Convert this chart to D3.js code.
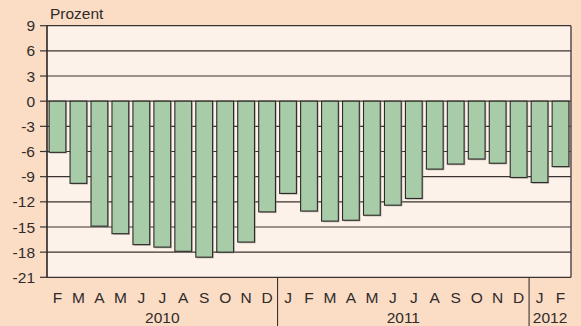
<!DOCTYPE html>
<html>
<head>
<meta charset="utf-8">
<script src="https://cdn.jsdelivr.net/npm/d3@7"></script>
<style>
  html, body { margin: 0; padding: 0; background: #fbdcc5; }
  svg { display: block; font-family: "Liberation Sans", Arial, sans-serif; }
</style>
</head>
<body>
<svg id="chart" width="581" height="326"></svg>
<script>
// Monthly change, in percent (Feb 2010 – Feb 2012)
const months = ["F","M","A","M","J","J","A","S","O","N","D",
                "J","F","M","A","M","J","J","A","S","O","N","D",
                "J","F"];
const years = ["2010","2010","2010","2010","2010","2010","2010","2010","2010","2010","2010",
               "2011","2011","2011","2011","2011","2011","2011","2011","2011","2011","2011","2011",
               "2012","2012"];
const values = [-6.1, -9.8, -14.9, -15.8, -17.1, -17.4, -17.9, -18.6, -18.0, -16.8, -13.2,
                -11.0, -13.1, -14.3, -14.2, -13.6, -12.4, -11.6, -8.1, -7.5, -6.9, -7.4, -9.1,
                -9.7, -7.8];
const yTicks = [9, 6, 3, 0, -3, -6, -9, -12, -15, -18, -21];
const yLabel = "Prozent";

const W = 581, H = 326;
const FS = 15.5;
const plot = { left: 47, right: 571, top: 25.7, bottom: 277.3 };
const svg = d3.select("#chart");

const idx = d3.range(values.length);
const x = d3.scaleBand().domain(idx).range([plot.left, plot.right])
  .paddingInner(0.2).paddingOuter(0.1);
const y = d3.scaleLinear().domain([-21, 9]).range([plot.bottom, plot.top]);

// plot background
svg.append("rect")
  .attr("x", plot.left).attr("y", plot.top)
  .attr("width", plot.right - plot.left).attr("height", plot.bottom - plot.top)
  .attr("fill", "#fdf2e9");

// horizontal grid lines
svg.append("g").selectAll("line").data(yTicks).join("line")
  .attr("x1", plot.left).attr("x2", plot.right)
  .attr("y1", d => y(d)).attr("y2", d => y(d))
  .attr("stroke", "#3a3330").attr("stroke-width", 1.2);

// bar shadows
svg.append("g").selectAll("rect").data(idx).join("rect")
  .attr("x", i => x(i) + 1.2)
  .attr("y", i => Math.min(y(0), y(values[i])) + 1.2)
  .attr("width", x.bandwidth())
  .attr("height", i => Math.abs(y(values[i]) - y(0)))
  .attr("fill", "#8a8582").attr("opacity", 0.6);

// bars
svg.append("g").selectAll("rect").data(idx).join("rect")
  .attr("x", i => x(i))
  .attr("y", i => Math.min(y(0), y(values[i])))
  .attr("width", x.bandwidth())
  .attr("height", i => Math.abs(y(values[i]) - y(0)))
  .attr("fill", "#a8cba8")
  .attr("stroke", "#2e2a28").attr("stroke-width", 1.1);

// plot frame (left and right)
svg.append("line").attr("x1", plot.left).attr("x2", plot.left)
  .attr("y1", plot.top).attr("y2", plot.bottom)
  .attr("stroke", "#2a2524").attr("stroke-width", 1.6);
svg.append("line").attr("x1", plot.right).attr("x2", plot.right)
  .attr("y1", plot.top).attr("y2", plot.bottom)
  .attr("stroke", "#4a4442").attr("stroke-width", 1.4);

// y axis ticks and labels
const yAxis = svg.append("g");
yAxis.selectAll("line").data(yTicks).join("line")
  .attr("x1", plot.left - 7).attr("x2", plot.left)
  .attr("y1", d => y(d)).attr("y2", d => y(d))
  .attr("stroke", "#3a3330").attr("stroke-width", 1.2);
yAxis.selectAll("text").data(yTicks).join("text")
  .attr("x", 35).attr("y", d => y(d)).attr("dy", "0.36em")
  .attr("text-anchor", "end").attr("font-size", FS).attr("fill", "#2f2b2a")
  .text(d => d);

svg.append("text").attr("x", 50).attr("y", 19)
  .attr("font-size", FS).attr("fill", "#2f2b2a").text(yLabel);

// month labels
svg.append("g").selectAll("text").data(idx).join("text")
  .attr("x", i => x(i) + x.bandwidth() / 2).attr("y", 302.5)
  .attr("text-anchor", "middle").attr("font-size", FS).attr("fill", "#2f2b2a")
  .text(i => months[i]);

// year groups: labels and separators
const groups = d3.groups(idx, i => years[i]);
const step = x.step();
const gx0 = x(0) - (step - x.bandwidth()) / 2;
groups.forEach(([yr, list], gi) => {
  const start = gx0 + list[0] * step;
  const end = gx0 + (list[list.length - 1] + 1) * step;
  const t = svg.append("text").attr("y", 322.5)
    .attr("text-anchor", "middle").attr("font-size", FS).attr("fill", "#2f2b2a")
    .text(yr);
  const w = t.node().getComputedTextLength();
  const cx = Math.min((start + end) / 2, W - 7 - w / 2);
  t.attr("x", cx);
  if (gi > 0) {
    svg.append("line").attr("x1", start).attr("x2", start)
      .attr("y1", plot.bottom).attr("y2", H)
      .attr("stroke", "#3a3330").attr("stroke-width", 1.1);
  }
});
</script>
</body>
</html>
